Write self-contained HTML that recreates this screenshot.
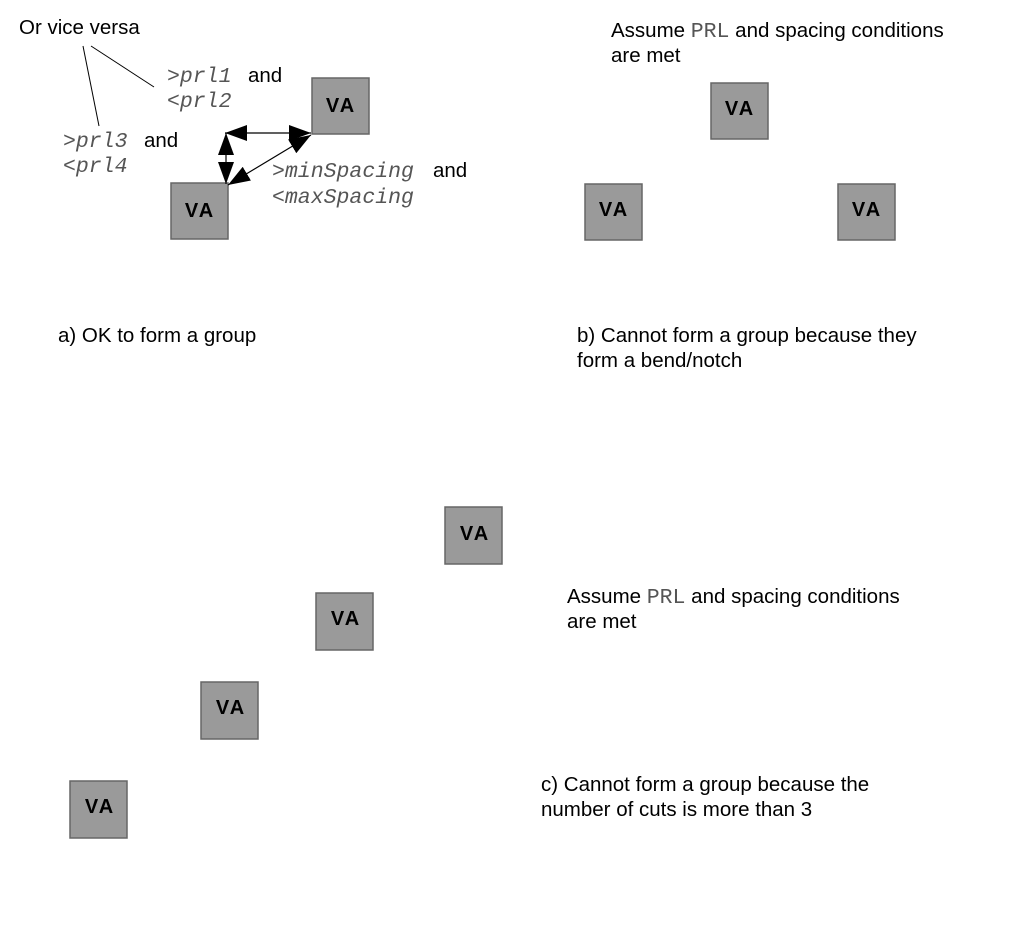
<!DOCTYPE html>
<html><head><meta charset="utf-8"><style>
html,body{margin:0;padding:0;background:#fff;width:1013px;height:945px;overflow:hidden}
svg{display:block}
.t{font-family:"Liberation Sans",sans-serif;font-size:20.5px;fill:#000}
.m{font-family:"Liberation Mono",monospace;font-size:21.5px;font-style:italic;fill:#555}
.mn{font-family:"Liberation Mono",monospace;font-size:21.5px;fill:#555}
.va{font-family:"Liberation Sans",sans-serif;font-size:20px;font-weight:bold;fill:#000;text-anchor:middle;letter-spacing:2px}
rect{fill:#9a9a9a;stroke:#666;stroke-width:1.5}
</style></head><body>
<svg width="1013" height="945" viewBox="0 0 1013 945">
<defs>
<marker id="b" markerWidth="22" markerHeight="16" refX="22" refY="8" orient="auto-start-reverse" markerUnits="userSpaceOnUse"><path d="M0,0 L22,8 L0,16 z" fill="#000"/></marker>
</defs>
<text class="t" x="19" y="34">Or vice versa</text>
<line x1="83" y1="46" x2="99" y2="126" stroke="#000" stroke-width="1"/>
<line x1="91" y1="46" x2="154" y2="87" stroke="#000" stroke-width="1"/>
<text x="167" y="82"><tspan class="m">&gt;prl1</tspan><tspan class="t" x="248">and</tspan></text>
<text x="167" y="107"><tspan class="mn">&lt;</tspan><tspan class="m">prl2</tspan></text>
<text x="63" y="147"><tspan class="m">&gt;prl3</tspan><tspan class="t" x="144">and</tspan></text>
<text x="63" y="172"><tspan class="mn">&lt;</tspan><tspan class="m">prl4</tspan></text>
<text x="272" y="177"><tspan class="m">&gt;minSpacing</tspan><tspan class="t" x="433">and</tspan></text>
<text x="272" y="203"><tspan class="mn">&lt;</tspan><tspan class="m">maxSpacing</tspan></text>
<rect x="312" y="78" width="57" height="56"/><text class="va" x="341" y="112">VA</text>
<rect x="171" y="183" width="57" height="56"/><text class="va" x="200" y="217">VA</text>
<line x1="225" y1="133" x2="311" y2="133" stroke="#000" stroke-width="1.2" marker-start="url(#b)" marker-end="url(#b)"/>
<line x1="226" y1="133" x2="226" y2="184" stroke="#000" stroke-width="1.2" marker-start="url(#b)" marker-end="url(#b)"/>
<line x1="228" y1="185" x2="311" y2="135" stroke="#000" stroke-width="1.2" marker-start="url(#b)" marker-end="url(#b)"/>
<text class="t" x="58" y="342">a) OK to form a group</text>
<text x="611" y="37"><tspan class="t">Assume </tspan><tspan class="mn">PRL</tspan><tspan class="t"> and spacing conditions</tspan></text>
<text class="t" x="611" y="62">are met</text>
<rect x="711" y="83" width="57" height="56"/><text class="va" x="740" y="115">VA</text>
<rect x="585" y="184" width="57" height="56"/><text class="va" x="614" y="216">VA</text>
<rect x="838" y="184" width="57" height="56"/><text class="va" x="867" y="216">VA</text>
<text class="t" x="577" y="342">b) Cannot form a group because they</text>
<text class="t" x="577" y="367">form a bend/notch</text>
<rect x="445" y="507" width="57" height="57"/><text class="va" x="475" y="540">VA</text>
<rect x="316" y="593" width="57" height="57"/><text class="va" x="346" y="625">VA</text>
<rect x="201" y="682" width="57" height="57"/><text class="va" x="231" y="714">VA</text>
<rect x="70" y="781" width="57" height="57"/><text class="va" x="100" y="813">VA</text>
<text x="567" y="603"><tspan class="t">Assume </tspan><tspan class="mn">PRL</tspan><tspan class="t"> and spacing conditions</tspan></text>
<text class="t" x="567" y="628">are met</text>
<text class="t" x="541" y="791">c) Cannot form a group because the</text>
<text class="t" x="541" y="816">number of cuts is more than 3</text>
</svg>
</body></html>
